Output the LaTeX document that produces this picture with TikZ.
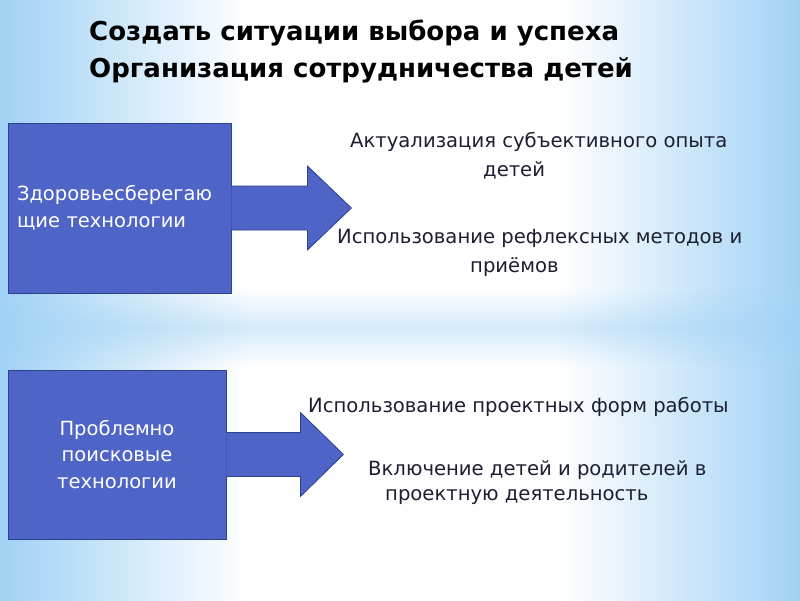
\documentclass[tikz,border=0pt]{standalone}
\usepackage{fontspec}
\setmainfont{DejaVu Sans}
\usepackage{xcolor}
\usetikzlibrary{positioning,calc,fadings}
\definecolor{fonbleu}{RGB}{160,210,245}
\definecolor{boite}{RGB}{78,100,198}
\definecolor{bord}{RGB}{45,66,140}
\definecolor{encre}{RGB}{30,30,50}
\tikzfading[name=bande, top color=transparent!100, bottom color=transparent!100, middle color=transparent!55]

\begin{document}
\begin{tikzpicture}[x=1pt, y=-1pt,
 boite/.style={draw=bord, fill=boite, line width=0.8pt, text=white, inner sep=0pt,
   font=\fontsize{19.5}{26.5}\selectfont},
 fleche/.style={draw=bord, fill=boite, line width=0.8pt, line join=miter},
 lbl/.style={text=encre, inner sep=0pt, anchor=west, font=\fontsize{19.6}{26}\selectfont},
 titre/.style={inner sep=0pt, anchor=west, font=\bfseries\fontsize{26}{37}\selectfont}]
\useasboundingbox (0,0) rectangle (800,600);
% fond
\fill[white] (0,0) rectangle (800,600);
\shade[left color=fonbleu, right color=white] (0,0) rectangle (250,600);
\shade[left color=white, right color=fonbleu] (560,0) rectangle (800,600);
\fill[fonbleu, path fading=bande] (0,290) rectangle (800,365);
% titre
\node[titre] (t1) at (89,33) {Создать ситуации выбора и успеха};
\node[titre] (t2) at (89,70) {Организация сотрудничества детей};
% blocs
\node[boite, minimum width=223pt, minimum height=170pt, text width=205pt, align=left]
  (b1) at (119.5,208) {Здоровьесберегаю\\щие технологии};
\node[boite, minimum width=218pt, minimum height=169pt, text width=200pt, align=center]
  (b2) at (117,454.5) {Проблемно\\поисковые\\технологии};
% fleches
\draw[fleche] ($(b1.east)+(0,-22)$) -- ++(76,0) -- ++(0,-20) -- ++(44,42)
  coordinate (p1) -- ++(-44,42) -- ++(0,-20) -- ++(-76,0);
\draw[fleche] ($(b2.east)+(0,-22)$) -- ++(74,0) -- ++(0,-20) -- ++(43,42)
  coordinate (p2) -- ++(-43,42) -- ++(0,-20) -- ++(-74,0);
% textes
\node[lbl] (a1) at (350,142) {Актуализация субъективного опыта};
\node[lbl] (a2) at (483,170) {детей};
\node[lbl] (a3) at (337,238) {Использование рефлексных методов и};
\node[lbl] (a4) at (470,267) {приёмов};
\node[lbl] (a5) at (308,407) {Использование проектных форм работы};
\node[lbl] (a6) at (368,470) {Включение детей и родителей в};
\node[lbl] (a7) at (385,497) {проектную деятельность};
\end{tikzpicture}
\end{document}
